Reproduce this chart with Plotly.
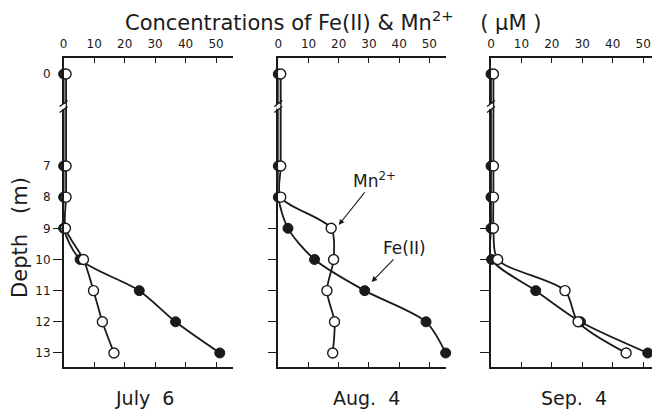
import plotly.graph_objects as go

# ---------------- data ----------------
depths = [0, 7, 8, 9, 10, 11, 12, 13]
panel_labels = ["July  6", "Aug.  4", "Sep.  4"]

fe_jul = [0, 0, 0, 0, 5.4, 24.8, 36.7, 51.2]
mn_jul = [0.8, 0.8, 0.8, 0.6, 6.5, 9.8, 12.7, 16.5]

fe_aug = [0, 0, 0, 3.2, 12.0, 28.6, 48.9, 55.4]
mn_aug = [0.8, 0.8, 0.8, 17.5, 18.3, 16.1, 18.6, 18.0]

fe_sep = [0, 0, 0, 0, 0.2, 14.7, 29.4, 51.5]
mn_sep = [0.8, 0.8, 0.8, 0.8, 2.2, 24.3, 28.6, 44.4]

x_ticks = [0, 10, 20, 30, 40, 50]
depth_ticks = [0, 7, 8, 9, 10, 11, 12, 13]
depth_marks = [9, 10, 11, 12, 13]

# broken depth axis: 0..7 m compressed
def disp(d):
    return d if d >= 7 else 4.05 + (7 - 4.05) * d / 7.0

Y_RANGE = [13.45, 3.535]
X_RANGES = [[0, 55.4], [0, 55.6], [0, 52.9]]
X_DOMAINS = [[60 / 652, 230 / 652], [276 / 652, 445 / 652], [490 / 652, 1.0]]
Y_DOMAIN = [1 - 367 / 413, 1 - 58 / 413]
W, H = 652, 413

INK = "#1a1a1a"
FONT = "DejaVu Sans"

fig = go.Figure()

panels = [(fe_jul, mn_jul), (fe_aug, mn_aug), (fe_sep, mn_sep)]
for i, (fe, mn) in enumerate(panels):
    xa = "x" if i == 0 else f"x{i+1}"
    ya = "y" if i == 0 else f"y{i+1}"
    ys = [disp(d) for d in depths]
    fig.add_trace(go.Scatter(
        x=fe, y=ys, xaxis=xa, yaxis=ya, mode="lines+markers",
        line=dict(color=INK, width=1.8, shape="spline", smoothing=0.8),
        marker=dict(size=10, color=INK, line=dict(color=INK, width=1)),
        cliponaxis=False, showlegend=False, name="Fe(II)"))
    fig.add_trace(go.Scatter(
        x=mn, y=ys, xaxis=xa, yaxis=ya, mode="lines+markers",
        line=dict(color=INK, width=1.8, shape="spline", smoothing=0.8),
        marker=dict(size=10, color="white", line=dict(color=INK, width=1.4)),
        cliponaxis=False, showlegend=False, name="Mn2+"))

# invisible trace for the depth-label overlay axis
fig.add_trace(go.Scatter(x=[0], y=[disp(0)], xaxis="x", yaxis="y4",
                         mode="markers", marker=dict(opacity=0),
                         hoverinfo="skip", showlegend=False))

layout = dict(
    width=W, height=H,
    margin=dict(l=0, r=0, t=0, b=0),
    paper_bgcolor="white", plot_bgcolor="white",
    font=dict(family=FONT, color=INK, size=11),
)
for i in range(3):
    xk = "xaxis" if i == 0 else f"xaxis{i+1}"
    yk = "yaxis" if i == 0 else f"yaxis{i+1}"
    yname = "y" if i == 0 else f"y{i+1}"
    xname = "x" if i == 0 else f"x{i+1}"
    layout[xk] = dict(
        domain=X_DOMAINS[i], range=X_RANGES[i], anchor=yname, side="top",
        tickmode="array", tickvals=x_ticks, ticks="inside", ticklen=5,
        tickwidth=1.2, tickcolor=INK, showline=True, linewidth=1.5,
        linecolor=INK, mirror="ticks", showgrid=False, zeroline=False,
        tickfont=dict(size=12, family=FONT, color=INK), ticklabelstandoff=3)
    layout[yk] = dict(
        domain=Y_DOMAIN, range=Y_RANGE, anchor=xname,
        tickmode="array", tickvals=[disp(d) for d in depth_marks],
        ticks="outside", ticklen=9, tickwidth=1.2, tickcolor=INK,
        showticklabels=False, showline=True, linewidth=1.5, linecolor=INK,
        showgrid=False, zeroline=False)
layout["yaxis4"] = dict(
    overlaying="y", anchor="x", side="left", range=Y_RANGE,
    tickmode="array", tickvals=[disp(d) for d in depth_ticks],
    ticktext=[str(d) for d in depth_ticks], ticks="", showline=False,
    showgrid=False, zeroline=False, ticklabelstandoff=12,
    tickfont=dict(size=12, family=FONT, color=INK))
fig.update_layout(**layout)

# axis break marks (decoration, in paper coordinates)
for i in range(3):
    ax_px = X_DOMAINS[i][0] * W
    # white gap in the axis line
    fig.add_shape(type="rect", xref="paper", yref="paper",
                  x0=(ax_px - 2) / W, x1=(ax_px + 2) / W,
                  y0=1 - 109 / H, y1=1 - 104 / H,
                  line=dict(width=0), fillcolor="white", layer="above")
    for cy in (103.5, 109.5):
        fig.add_shape(type="line", xref="paper", yref="paper",
                      x0=(ax_px - 4) / W, x1=(ax_px + 4) / W,
                      y0=1 - (cy + 3) / H, y1=1 - (cy - 3) / H,
                      line=dict(color=INK, width=1.4), layer="above")

# title
fig.add_annotation(text="Concentrations of Fe(II) & Mn<sup>2+</sup>    ( μM )",
                   xref="paper", yref="paper", x=331 / W, y=1 - 21 / H,
                   showarrow=False, xanchor="center", yanchor="middle",
                   font=dict(size=21, family=FONT, color=INK))
# depth title
fig.add_annotation(text="Depth   (m)", xref="paper", yref="paper",
                   x=16 / W, y=1 - 237 / H, textangle=-90,
                   showarrow=False, xanchor="center", yanchor="middle",
                   font=dict(size=21, family=FONT, color=INK))
# panel labels
for lab, cx in zip(panel_labels, [141, 365, 574]):
    fig.add_annotation(text=lab, xref="paper", yref="paper",
                       x=cx / W, y=1 - 398 / H, showarrow=False,
                       xanchor="center", yanchor="middle",
                       font=dict(size=19, family=FONT, color=INK))

# arrows in Aug panel
fig.add_annotation(text="Mn<sup>2+</sup>", xref="x2", yref="y2", x=20.0, y=8.89,
                   ax=36, ay=-45, showarrow=True, arrowhead=2, arrowsize=1,
                   arrowwidth=1.1, arrowcolor=INK,
                   font=dict(size=17, family=FONT, color=INK))
fig.add_annotation(text="Fe(II)", xref="x2", yref="y2", x=30.9, y=10.72,
                   ax=33, ay=-34, showarrow=True, arrowhead=2, arrowsize=1,
                   arrowwidth=1.1, arrowcolor=INK,
                   font=dict(size=17, family=FONT, color=INK))

fig.write_html("out.html", config={"displayModeBar": False},
               post_script="document.body.style.margin='0';document.body.style.overflow='hidden';")
